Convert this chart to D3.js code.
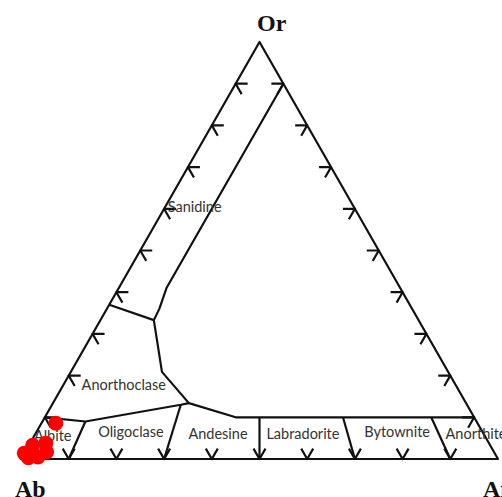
<!DOCTYPE html>
<html>
<head>
<meta charset="utf-8">
<script src="https://cdn.jsdelivr.net/npm/d3@7"></script>
<style>
  html, body { margin: 0; padding: 0; background: #fff; }
  svg { display: block; }
</style>
</head>
<body>
<div id="chart"></div>
<script>
// ternary feldspar diagram: Ab (left) - An (right) - Or (top), values in percent
const cornerNames = ["Or", "Ab", "An"];
const tickSteps = [10, 20, 30, 40, 50, 60, 70, 80, 90];

// field boundaries as [An, Or] pairs
const sanidineLine = [[10, 90], [10, 41], [11, 36], [11.2, 33.3]];
const sanidineLeft = [[0, 37], [11.2, 33.3]];
const anorthoclaseRight = [[11.2, 33.3], [19.1, 20.9], [28.5, 13.4]];
const plagioclaseTop = [[0, 10], [9, 9], [27, 13], [28.5, 13.4], [40, 10], [90, 10]];
const plagioclaseSplits = [
    [[9, 9], [10, 0]],
    [[27, 13], [30, 0]],
    [[45, 10], [50, 0]],
    [[62.5, 10], [70, 0]],
    [[81, 10], [90, 0]]
];

const fieldNames = ["Sanidine", "Anorthoclase", "Albite", "Oligoclase", "Andesine", "Labradorite", "Bytownite", "Anorthite"];

// samples (An %, Or %)
const sampleAn = [3.0, 3.3, 0.8, 4.5, 0, 1.4, 3.3];
const sampleOr = [8.6, 3.8, 3.3, 1.7, 1.4, 0.3, 0.5];

const width = 502, height = 497;

const svg = d3.select("#chart").append("svg")
    .attr("width", width)
    .attr("height", height);

// cartesian position inside the triangle (base = 1, or shifts half a unit)
const x = d3.scaleLinear().domain([0, 1]).range([21, 498]);
const y = d3.scaleLinear().domain([0, 1]).range([459, 42]);
const px = (an, or) => x(an / 100 + or / 200);
const py = (an, or) => y(or / 100);

const line = d3.line()
    .x(d => px(d[0], d[1]))
    .y(d => py(d[0], d[1]));

const g = svg.append("g")
    .attr("fill", "none")
    .attr("stroke", "#111")
    .attr("stroke-width", 2.2)
    .attr("stroke-linejoin", "round");

// outline
g.append("path")
    .attr("d", line([[0, 0], [100, 0], [0, 100]]) + "Z");

[sanidineLine, sanidineLeft, anorthoclaseRight, plagioclaseTop]
    .concat(plagioclaseSplits)
    .forEach(seg => g.append("path").attr("d", line(seg)));

// arrow ticks, arm length in px
const arm = 12;
const c60 = Math.cos(Math.PI / 3), s60 = Math.sin(Math.PI / 3);

// base: V shapes pointing down
tickSteps.forEach(t => {
    const vx = px(t, 0), vy = py(t, 0);
    g.append("path").attr("d",
        `M${vx - arm * c60},${vy - arm * s60}L${vx},${vy}L${vx + arm * c60},${vy - arm * s60}`);
});

// left edge (Ab-Or): "<"
tickSteps.forEach(t => {
    const vx = px(0, t), vy = py(0, t);
    g.append("path").attr("d",
        `M${vx + arm},${vy}L${vx},${vy}L${vx + arm * c60},${vy + arm * s60}`);
});

// right edge (An-Or): ">"
tickSteps.forEach(t => {
    const vx = px(100 - t, t), vy = py(100 - t, t);
    g.append("path").attr("d",
        `M${vx - arm},${vy}L${vx},${vy}L${vx - arm * c60},${vy + arm * s60}`);
});

// field labels, positions in [An, Or]
const labelPos = [[6.2, 60.4], [12.7, 17.7], [3.9, 5.5], [19.8, 6.5], [38.3, 6.0], [56.1, 6.0], [75.6, 6.5], [92.4, 6.0]];

svg.append("g")
    .selectAll("text")
    .data(fieldNames)
    .join("text")
    .attr("x", (d, i) => px(labelPos[i][0], labelPos[i][1]))
    .attr("y", (d, i) => py(labelPos[i][0], labelPos[i][1]))
    .attr("dy", "0.35em")
    .attr("text-anchor", "middle")
    .attr("font-family", "Lato, 'Open Sans', sans-serif")
    .attr("font-size", 14.5)
    .attr("fill", "#333")
    .text(d => d);

// samples
svg.append("g")
    .selectAll("circle")
    .data(sampleAn)
    .join("circle")
    .attr("cx", (d, i) => px(d, sampleOr[i]))
    .attr("cy", (d, i) => py(d, sampleOr[i]))
    .attr("r", 7.5)
    .attr("fill", "#ff0000");

// corner names
const cornerPos = [[257, 31], [15, 497], [483, 497]];
svg.append("g")
    .selectAll("text")
    .data(cornerNames)
    .join("text")
    .attr("x", (d, i) => cornerPos[i][0])
    .attr("y", (d, i) => cornerPos[i][1])
    .attr("font-family", "'Liberation Serif', 'Times New Roman', serif")
    .attr("font-weight", "bold")
    .attr("font-size", 24)
    .attr("fill", "#111")
    .text(d => d);
</script>
</body>
</html>
